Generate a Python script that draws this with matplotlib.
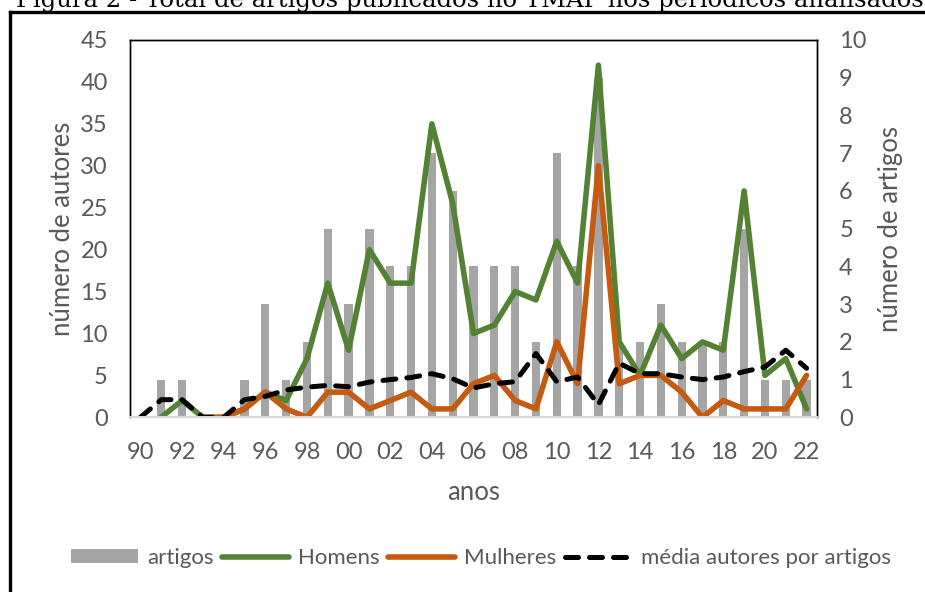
import numpy as np
import matplotlib
matplotlib.use("Agg")
import matplotlib.pyplot as plt
from matplotlib.lines import Line2D

# data
anos = ["90", "91", "92", "93", "94", "95", "96", "97", "98", "99", "00", "01",
        "02", "03", "04", "05", "06", "07", "08", "09", "10", "11", "12", "13",
        "14", "15", "16", "17", "18", "19", "20", "21", "22"]
artigos = [0, 1, 1, 0, 0, 1, 3, 1, 2, 5, 3, 5, 4, 4, 7, 6, 4, 4, 4, 2, 7, 4,
           9, 2, 2, 3, 2, 2, 2, 5, 1, 1, 1]
homens = [np.nan, 0, 2, 0, 0, 1, 3, 2, 7, 16, 8, 20, 16, 16, 35, 25.5, 10, 11,
          15, 14, 21, 16, 42, 9, 5, 11, 7, 9, 8, 27, 5, 7, 1]
mulheres = [np.nan, np.nan, np.nan, 0, 0, 1, 3, 1, 0, 3, 3, 1, 2, 3, 1, 1, 4,
            5, 2, 1, 9, 4, 30, 4, 5, 5, 3, 0, 2, 1, 1, 1, 5]
media = [0, 2.1, 2.1, 0, 0, 2.1, 2.5, 3.25, 3.6, 3.8, 3.65, 4.2, 4.5, 4.75,
         5.2, 4.6, 3.5, 4.0, 4.25, 7.6, 4.25, 4.8, 1.5, 6.45, 5.2, 5.2, 4.8,
         4.5, 4.8, 5.45, 6.0, 8.0, 5.85]

GREY = "#A5A5A5"
GREEN = "#548235"
ORANGE = "#C55A11"
TXT = "#595959"
FONT = "Lato"

plt.rcParams["font.family"] = [FONT, "DejaVu Sans"]

fig = plt.figure(figsize=(9.25, 5.92), dpi=100)
ax = fig.add_axes([130 / 925, 1 - 417.3 / 592, 687 / 925, 377.3 / 592])
ax2 = ax.twinx()
ax.set_zorder(ax2.get_zorder() + 1)
ax.patch.set_visible(False)

x = np.arange(len(anos))

# bars on the right axis (number of articles)
bars = ax2.bar(x, artigos, width=0.4, color=GREY, label="artigos")
ax2.set_ylim(0, 10)
ax2.set_yticks(range(0, 11))

# lines on the left axis (number of authors)
l1, = ax.plot(x, homens, color=GREEN, lw=4, solid_joinstyle="round",
              solid_capstyle="round", label="Homens")
l2, = ax.plot(x, mulheres, color=ORANGE, lw=4, solid_joinstyle="round",
              solid_capstyle="round", label="Mulheres")
l3, = ax.plot(x, media, color="black", lw=3.6, ls=(0, (2.6, 2.2)),
              dash_capstyle="round", label="média autores por artigos")
ax.set_ylim(0, 45)
ax.set_yticks(range(0, 46, 5))
ax.set_xlim(-0.5, len(anos) - 0.5)
ax.set_xticks(x[::2])
ax.set_xticklabels(anos[::2])

for a in (ax, ax2):
    a.tick_params(length=0, labelsize=17, colors=TXT)
    for s in a.spines.values():
        s.set_color("black")
        s.set_linewidth(1)
    a.spines["bottom"].set_color("#D9D9D9")
    a.spines["bottom"].set_linewidth(1.5)
ax.tick_params(axis="y", pad=16)
ax2.tick_params(axis="y", pad=16)
ax.tick_params(axis="x", pad=18)

ax.set_ylabel("número de autores", fontsize=18.5, color=TXT, labelpad=4)
ax2.set_ylabel("número de artigos", fontsize=18.5, color=TXT, labelpad=8)
ax.set_xlabel("anos", fontsize=18.5, color=TXT, labelpad=12)

fig.legend([bars, l1, l2, l3],
           ["artigos", "Homens", "Mulheres", "média autores por artigos"],
           loc="center", bbox_to_anchor=(0.52, 1 - 558 / 592), ncol=4,
           frameon=False, fontsize=16, labelcolor=TXT, handlelength=3.0,
           handletextpad=0.4, columnspacing=0.4, handleheight=0.6)

# outer frame and caption, cut off like in the source
fig.add_artist(Line2D([10 / 925, 10 / 925], [0, 1 - 12 / 592], color="black",
                      lw=2.4, transform=fig.transFigure))
fig.add_artist(Line2D([10 / 925, 1], [1 - 12 / 592, 1 - 12 / 592],
                      color="black", lw=2.4, transform=fig.transFigure))
fig.text(0.508, 1 - 7 / 592,
         "Figura 2 - Total de artigos publicados no TMAP nos periódicos analisados",
         ha="center", va="baseline", fontsize=17.5, family="DejaVu Serif",
         color="black")

fig.savefig("out.png", dpi=100)
